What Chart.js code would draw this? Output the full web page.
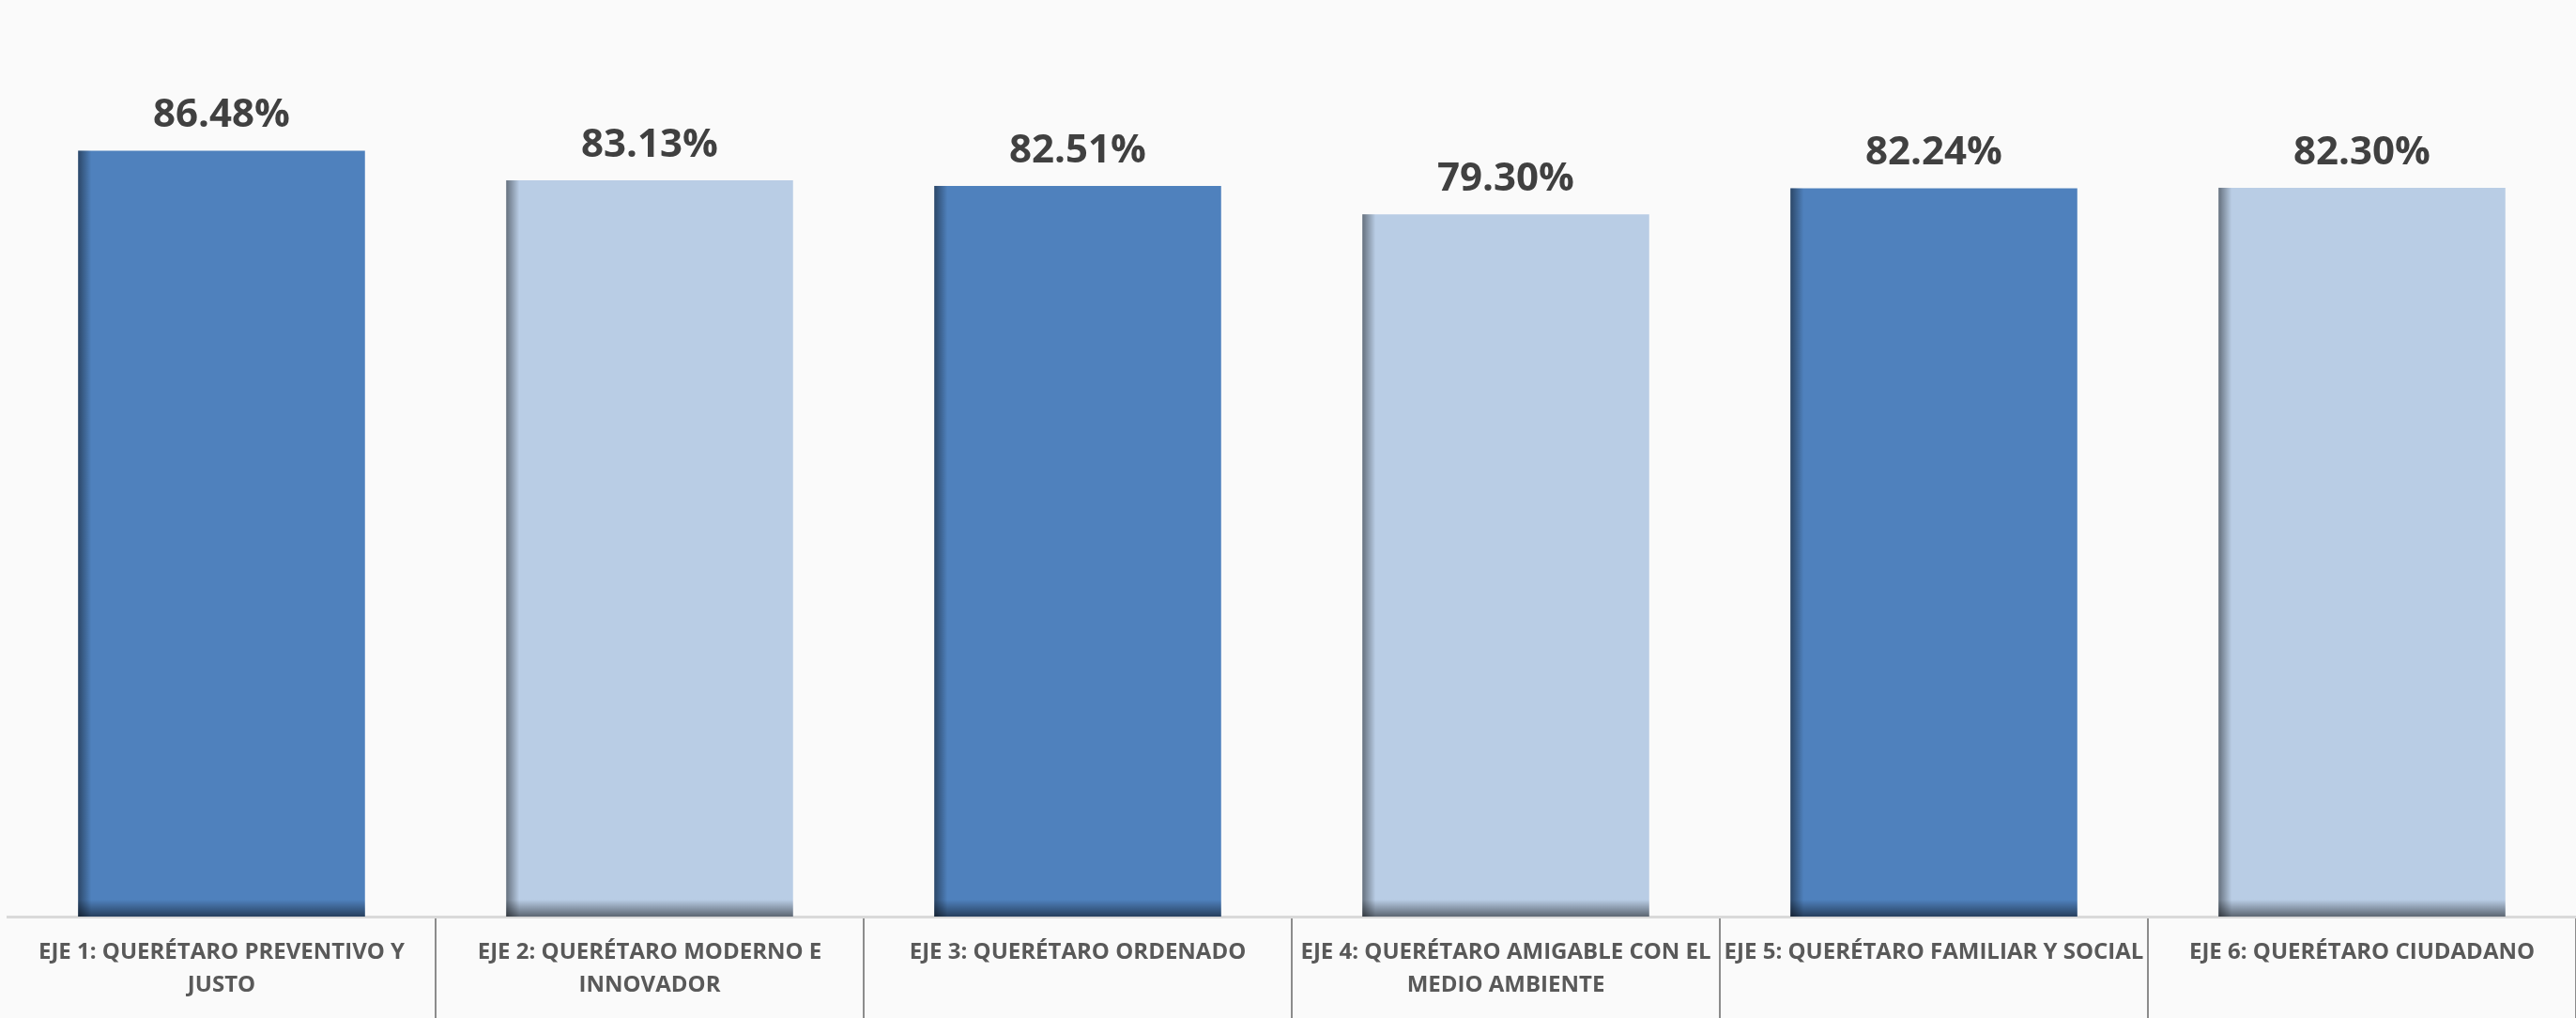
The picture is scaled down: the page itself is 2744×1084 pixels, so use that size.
<!DOCTYPE html>
<html>
<head>
<meta charset="utf-8">
<script src="https://cdn.jsdelivr.net/npm/chart.js@4/dist/chart.umd.min.js"></script>
<style>
  html, body { margin: 0; padding: 0; background: #fafafa; }
  #wrap { width: 2744px; height: 1084px; }
</style>
</head>
<body>
<div id="wrap"><canvas id="barChart"></canvas></div>
<script>
// Chart data
const categories = [
  ['EJE 1: QUERÉTARO PREVENTIVO Y', 'JUSTO'],
  ['EJE 2: QUERÉTARO MODERNO E', 'INNOVADOR'],
  'EJE 3: QUERÉTARO ORDENADO',
  ['EJE 4: QUERÉTARO AMIGABLE CON EL', 'MEDIO AMBIENTE'],
  'EJE 5: QUERÉTARO FAMILIAR Y SOCIAL',
  'EJE 6: QUERÉTARO CIUDADANO'
];
const values = [86.48, 83.13, 82.51, 79.30, 82.24, 82.30];
const barColors = ['#4f81bd', '#b9cde5', '#4f81bd', '#b9cde5', '#4f81bd', '#b9cde5'];

// inner shadow on left edge and bottom of each bar
const barShade = {
  id: 'barShade',
  afterDatasetsDraw(chart) {
    const ctx = chart.ctx;
    chart.getDatasetMeta(0).data.forEach(bar => {
      const left = bar.x - bar.width / 2;
      const h = bar.base - bar.y;
      let g = ctx.createLinearGradient(left, 0, left + 14, 0);
      g.addColorStop(0, 'rgba(0,0,0,0.45)');
      g.addColorStop(1, 'rgba(0,0,0,0)');
      ctx.fillStyle = g;
      ctx.fillRect(left, bar.y, 14, h);
      g = ctx.createLinearGradient(0, bar.base, 0, bar.base - 18);
      g.addColorStop(0, 'rgba(0,0,0,0.5)');
      g.addColorStop(1, 'rgba(0,0,0,0)');
      ctx.fillStyle = g;
      ctx.fillRect(left, bar.base - 18, bar.width, 18);
    });
  }
};

// percent labels above bars
const valueLabels = {
  id: 'valueLabels',
  afterDatasetsDraw(chart) {
    const ctx = chart.ctx;
    ctx.save();
    ctx.font = 'bold 42px "Open Sans"';
    ctx.fillStyle = '#404040';
    ctx.textAlign = 'center';
    ctx.textBaseline = 'alphabetic';
    chart.getDatasetMeta(0).data.forEach((bar, i) => {
      ctx.fillText(values[i].toFixed(2) + '%', bar.x, bar.y - 25);
    });
    ctx.restore();
  }
};

const ctx = document.getElementById('barChart').getContext('2d');
const barChart = new Chart(ctx, {
  type: 'bar',
  data: {
    labels: categories,
    datasets: [{
      data: values,
      backgroundColor: barColors,
      borderWidth: 0,
      categoryPercentage: 1,
      barPercentage: 0.67
    }]
  },
  options: {
    responsive: true,
    maintainAspectRatio: false,
    animation: false,
    layout: { padding: { top: 33, left: 8, right: 0, bottom: 0 } },
    scales: {
      y: { display: false, min: 0, max: 100 },
      x: {
        afterFit(scale) { scale.height = 108; },
        border: { color: '#d9d9d9', width: 3 },
        grid: {
          offset: true,
          drawOnChartArea: false,
          tickLength: 108,
          lineWidth: 2,
          color: c => (c.index === 0 || c.index === categories.length) ? 'rgba(0,0,0,0)' : '#8c8c8c'
        },
        ticks: {
          color: '#595959',
          padding: -87,
          maxRotation: 0,
          autoSkip: false,
          font: { family: '"Open Sans"', size: 24, weight: 'bold', lineHeight: 1.46 }
        }
      }
    },
    plugins: {
      legend: { display: false },
      tooltip: { enabled: false }
    }
  },
  plugins: [barShade, valueLabels]
});
</script>
</body>
</html>
